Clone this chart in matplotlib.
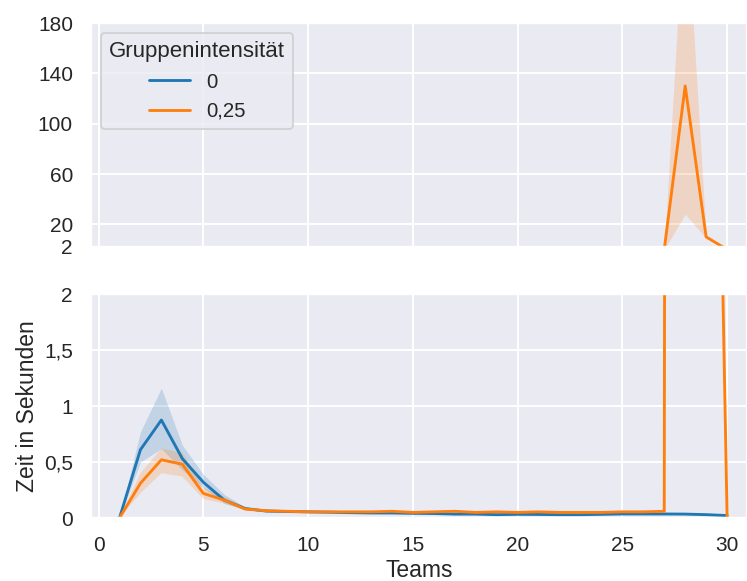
import matplotlib
matplotlib.use("Agg")
import matplotlib.pyplot as plt
import seaborn as sns
from matplotlib.ticker import FuncFormatter

sns.set_theme(style="darkgrid")
plt.rcParams['font.family'] = ['Liberation Sans', 'DejaVu Sans']

teams = list(range(1, 31))

mean_0 = [0.0, 0.61, 0.875, 0.53, 0.32, 0.16, 0.085, 0.062, 0.058, 0.055, 0.052, 0.048,
          0.045, 0.045, 0.042, 0.040, 0.035, 0.035, 0.030, 0.033, 0.032, 0.030, 0.030,
          0.033, 0.036, 0.036, 0.036, 0.035, 0.030, 0.022]
lo_0 = [0.0, 0.50, 0.62, 0.43, 0.27, 0.13, 0.075, 0.056, 0.053, 0.050, 0.047, 0.043,
        0.040, 0.040, 0.037, 0.035, 0.030, 0.030, 0.026, 0.029, 0.028, 0.026, 0.026,
        0.029, 0.032, 0.032, 0.032, 0.031, 0.026, 0.018]
hi_0 = [0.0, 0.77, 1.16, 0.65, 0.39, 0.21, 0.098, 0.068, 0.063, 0.060, 0.057, 0.053,
        0.050, 0.050, 0.047, 0.045, 0.040, 0.040, 0.034, 0.037, 0.036, 0.034, 0.034,
        0.037, 0.040, 0.040, 0.040, 0.039, 0.034, 0.026]

mean_25 = [0.0, 0.31, 0.52, 0.48, 0.22, 0.16, 0.08, 0.065, 0.060, 0.055, 0.055, 0.055,
           0.055, 0.060, 0.050, 0.055, 0.060, 0.050, 0.055, 0.050, 0.055, 0.050, 0.050,
           0.050, 0.055, 0.055, 0.060, 130.0, 10.0, 0.01]
lo_25 = [0.0, 0.22, 0.40, 0.37, 0.17, 0.13, 0.07, 0.058, 0.054, 0.050, 0.050, 0.050,
         0.050, 0.054, 0.045, 0.050, 0.054, 0.045, 0.050, 0.045, 0.050, 0.045, 0.045,
         0.045, 0.050, 0.050, 0.054, 28.0, 9.0, 0.005]
hi_25 = [0.0, 0.40, 0.62, 0.58, 0.27, 0.19, 0.095, 0.072, 0.066, 0.060, 0.060, 0.060,
         0.060, 0.066, 0.055, 0.060, 0.066, 0.055, 0.060, 0.055, 0.060, 0.055, 0.055,
         0.055, 0.060, 0.060, 0.066, 285.0, 11.0, 0.015]

series = [("0", mean_0, lo_0, hi_0, "#1f77b4"),
          ("0,25", mean_25, lo_25, hi_25, "#ff7f0e")]

DPI = 137
fig = plt.figure(figsize=(747 / DPI, 581 / DPI), dpi=DPI)
ax_top = fig.add_axes([0.1218, 0.5749, 0.8782, 0.3855])
ax_bot = fig.add_axes([0.1218, 0.1084, 0.8782, 0.3855])

for ax in (ax_top, ax_bot):
    for name, m, lo, hi, c in series:
        ax.fill_between(teams, lo, hi, color=c, alpha=0.2, linewidth=0)
        ax.plot(teams, m, color=c, lw=1.5, label=name)
    ax.set_xlim(-0.36, 30.95)
    ax.set_xticks([0, 5, 10, 15, 20, 25, 30])
    ax.tick_params(axis='both', colors='0.15')

de = FuncFormatter(lambda v, p: ("%g" % v).replace(".", ","))

ax_top.set_ylim(2, 180)
ax_top.set_yticks([2, 20, 60, 100, 140, 180])
ax_top.yaxis.set_major_formatter(de)
ax_top.tick_params(axis='x', labelbottom=False)

ax_bot.set_ylim(0, 2)
ax_bot.set_yticks([0, 0.5, 1, 1.5, 2])
ax_bot.yaxis.set_major_formatter(de)

ax_bot.set_xlabel("Teams", color='0.15')
ax_bot.xaxis.set_label_coords(0.5, -0.183)
ax_bot.set_ylabel("Zeit in Sekunden", color='0.15')
ax_bot.yaxis.set_label_coords(-0.080, 0.5)

leg = ax_top.legend(title="Gruppenintensität", loc="upper left",
                    fontsize=10.7, title_fontsize=11.7)

fig.savefig("out.png", dpi=DPI)
